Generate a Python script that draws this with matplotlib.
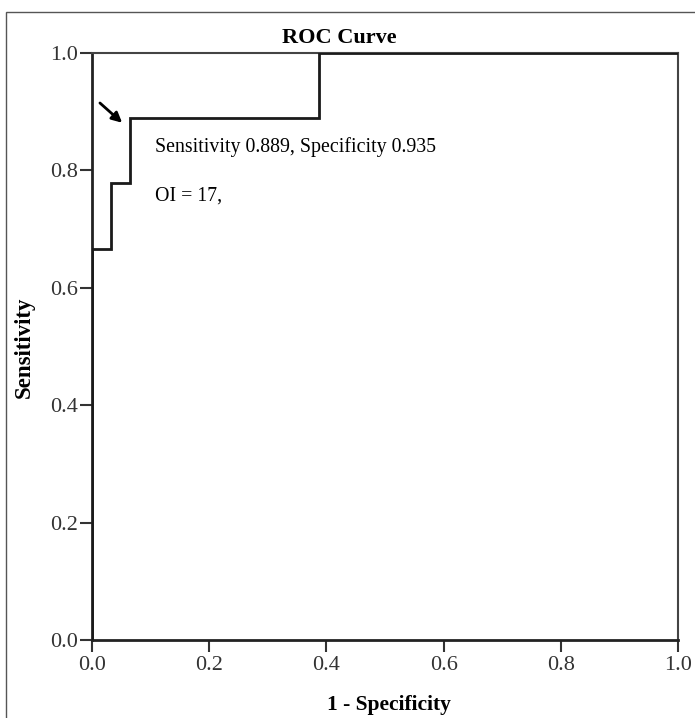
import matplotlib
matplotlib.use("Agg")
import matplotlib.pyplot as plt
from matplotlib.patches import Rectangle

# ROC data (1 - specificity, sensitivity)
fpr = [0.0, 0.0, 1/31, 1/31, 2/31, 2/31, 12/31, 12/31, 1.0]
tpr = [0.0, 6/9, 6/9, 7/9, 7/9, 8/9, 8/9, 1.0, 1.0]
ticks = [0.0, 0.2, 0.4, 0.6, 0.8, 1.0]
tick_labels = ["0.0", "0.2", "0.4", "0.6", "0.8", "1.0"]
title = "ROC Curve"
xlabel = "1 - Specificity"
ylabel = "Sensitivity"
note1 = "Sensitivity 0.889, Specificity 0.935"
note2 = "OI = 17,"
arrow_tip = (0.055, 0.878)
arrow_tail = (0.010, 0.918)

plt.rcParams['font.family'] = ['Liberation Serif', 'DejaVu Serif']

W, H = 695, 718
fig = plt.figure(figsize=(W/100, H/100), dpi=100)
ax = fig.add_axes([92/W, 1 - 640/H, (678-92)/W, (640-53)/H])

# outer frame
fig.patches.append(Rectangle((6/W, -0.1), 1.2, 1 - 12/H + 0.1, transform=fig.transFigure,
                             fill=False, edgecolor='#555555', linewidth=1.0))

ax.plot(fpr, tpr, color='#1a1a1a', linewidth=2.0, solid_joinstyle='miter', zorder=3)
ax.set_xlim(0, 1)
ax.set_ylim(0, 1)
ax.set_xticks(ticks)
ax.set_xticklabels(tick_labels)
ax.set_yticks(ticks)
ax.set_yticklabels(tick_labels)
ax.tick_params(direction='out', length=8.5, width=1.5, labelsize=16, colors='#333333')
ax.tick_params(axis='y', pad=1.5)
ax.tick_params(axis='x', pad=3)
for side in ['left', 'bottom']:
    ax.spines[side].set_linewidth(2.0)
    ax.spines[side].set_color('#222222')
for side in ['top', 'right']:
    ax.spines[side].set_linewidth(1.5)
    ax.spines[side].set_color('#444444')

ax.set_title(title, fontsize=16, fontweight='bold', pad=7, x=(339-92)/586)
ax.set_xlabel(xlabel, fontsize=15.5, fontweight='bold', va='center', ha='center')
ax.set_ylabel(ylabel, fontsize=16.5, fontweight='bold', va='center', ha='center')
ax.xaxis.set_label_coords((389-92)/586, (640-705)/587)
ax.yaxis.set_label_coords((24-92)/586, (640-347)/587)

ax.annotate('', xy=arrow_tip, xytext=arrow_tail,
            arrowprops=dict(arrowstyle='-|>,head_length=0.6,head_width=0.3', color='black', lw=2))
ax.text(0.107, 0.840, note1, fontsize=14.3, va='center', ha='left')
ax.text(0.107, 0.756, note2, fontsize=14.3, va='center', ha='left')

fig.savefig('out.png', dpi=100)
